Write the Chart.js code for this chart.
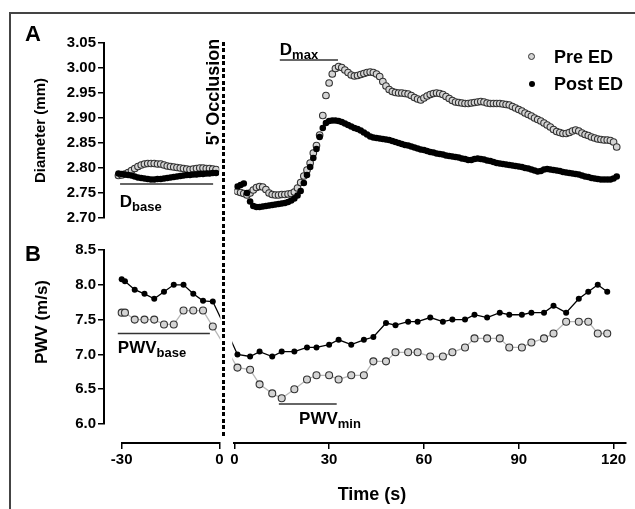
<!DOCTYPE html>
<html>
<head>
<meta charset="utf-8">
<script src="https://cdn.jsdelivr.net/npm/chart.js@4.4.1/dist/chart.umd.min.js"></script>
<style>
  html, body { margin: 0; padding: 0; background: #fff; overflow: hidden; }
  #fig { position: relative; width: 635px; height: 509px; overflow: hidden;
         font-family: 'Liberation Sans', Arial, sans-serif; font-weight: bold; color: #000; }
  #fig canvas { position: absolute; }
  .frame { position: absolute; left: 9px; top: 12px; width: 700px; height: 600px;
           border-left: 2px solid #444; border-top: 2px solid #444; }
  .txt { position: absolute; white-space: nowrap; line-height: 1; }
  .rot { transform: translate(-50%, -50%) rotate(-90deg); }
  .occl { position: absolute; left: 222px; top: 42px; width: 3px; height: 396px;
          background: repeating-linear-gradient(to bottom, #000 0 4px, transparent 4px 6.5px); }
  .dot { position: absolute; border-radius: 50%; box-sizing: border-box; }
</style>
</head>
<body>
<div id="fig">
  <div class="frame"></div>
  <canvas id="aL" width="222" height="230" style="left:0;top:0"></canvas>
  <canvas id="aR" width="413" height="230" style="left:222px;top:0"></canvas>
  <canvas id="bL" width="222" height="206" style="left:0;top:230px"></canvas>
  <canvas id="bR" width="413" height="206" style="left:222px;top:230px"></canvas>
  <canvas id="xL" width="228" height="73" style="left:0;top:436px"></canvas>
  <canvas id="xR" width="413" height="73" style="left:222px;top:436px"></canvas>

  <div class="occl"></div>
  <div class="txt rot" style="left:213px;top:92px;font-size:18px">5' Occlusion</div>
  <div class="txt" style="left:25px;top:23px;font-size:22px">A</div>
  <div class="txt" style="left:25px;top:243px;font-size:22px">B</div>
  <div class="txt rot" style="left:41px;top:322px;font-size:17px">PWV (m/s)</div>
  <div class="txt" style="left:372px;top:485px;font-size:18px;transform:translateX(-50%)">Time (s)</div>

  <div class="dot" style="left:528px;top:52.5px;width:7px;height:7px;background:#d4d4d4;border:1px solid #333"></div>
  <div class="txt" style="left:554px;top:48px;font-size:18px">Pre ED</div>
  <div class="dot" style="left:529px;top:80.5px;width:6px;height:6px;background:#000"></div>
  <div class="txt" style="left:554px;top:75px;font-size:18px">Post ED</div>
</div>

<script>
// ---- Diameter (panel A), sampled every second ----
const diamTimeLeft = [-31, -30, -29, -28, -27, -26, -25, -24, -23, -22, -21, -20, -19, -18, -17, -16,
  -15, -14, -13, -12, -11, -10, -9, -8, -7, -6, -5, -4, -3, -2, -1];
const diamPreLeft = [2.785, 2.786, 2.788, 2.791, 2.795, 2.799, 2.803, 2.806, 2.808, 2.809,
  2.809, 2.809, 2.808, 2.808, 2.806, 2.804, 2.803, 2.802, 2.801, 2.800,
  2.799, 2.798, 2.797, 2.798, 2.799, 2.800, 2.800, 2.799, 2.799, 2.798, 2.797];
const diamPostLeft = [2.789, 2.788, 2.787, 2.786, 2.785, 2.783, 2.781, 2.780, 2.779, 2.778,
  2.777, 2.777, 2.778, 2.778, 2.779, 2.780, 2.781, 2.782, 2.783, 2.784,
  2.785, 2.786, 2.786, 2.787, 2.787, 2.788, 2.788, 2.789, 2.789, 2.790, 2.790];

const diamTimeRight = [1, 2, 3, 4, 5, 6, 7, 8, 9, 10, 11, 12, 13, 14, 15, 16, 17, 18, 19, 20,
  21, 22, 23, 24, 25, 26, 27, 28, 29, 30, 31, 32, 33, 34, 35, 36, 37, 38, 39, 40,
  41, 42, 43, 44, 45, 46, 47, 48, 49, 50, 51, 52, 53, 54, 55, 56, 57, 58, 59, 60,
  61, 62, 63, 64, 65, 66, 67, 68, 69, 70, 71, 72, 73, 74, 75, 76, 77, 78, 79, 80,
  81, 82, 83, 84, 85, 86, 87, 88, 89, 90, 91, 92, 93, 94, 95, 96, 97, 98, 99, 100,
  101, 102, 103, 104, 105, 106, 107, 108, 109, 110, 111, 112, 113, 114, 115, 116, 117, 118, 119, 120, 121];
const diamPreRight = [
  2.753, 2.751, 2.749, 2.746, 2.750, 2.756, 2.761, 2.763, 2.762, 2.757,
  2.750, 2.747, 2.746, 2.746, 2.747, 2.747, 2.748, 2.749, 2.752, 2.760,
  2.771, 2.784, 2.796, 2.810, 2.830, 2.845, 2.866, 2.905, 2.945, 2.970,
  2.988, 2.999, 3.003, 3.001, 2.996, 2.991, 2.986, 2.984, 2.985, 2.987,
  2.989, 2.991, 2.992, 2.991, 2.988, 2.983, 2.973, 2.964, 2.957, 2.953,
  2.951, 2.950, 2.950, 2.949, 2.948, 2.945, 2.941, 2.938, 2.936, 2.940,
  2.944, 2.947, 2.949, 2.950, 2.949, 2.947, 2.943, 2.939, 2.935, 2.932,
  2.931, 2.930, 2.929, 2.929, 2.930, 2.931, 2.932, 2.933, 2.932, 2.930,
  2.929, 2.929, 2.929, 2.929, 2.928, 2.927, 2.926, 2.923, 2.920, 2.917,
  2.914, 2.910, 2.907, 2.904, 2.900, 2.897, 2.894, 2.890, 2.886, 2.882,
  2.877, 2.873, 2.871, 2.869, 2.869, 2.871, 2.874, 2.876, 2.874, 2.870,
  2.867, 2.865, 2.862, 2.860, 2.858, 2.857, 2.856, 2.856, 2.855, 2.852, 2.842];
const diamPostRight = [
  2.763, 2.766, 2.769, 2.750, 2.733, 2.724, 2.722, 2.722, 2.723, 2.724,
  2.725, 2.726, 2.727, 2.728, 2.729, 2.730, 2.732, 2.735, 2.739, 2.745,
  2.754, 2.770, 2.786, 2.802, 2.820, 2.838, 2.862, 2.880, 2.890, 2.894,
  2.895, 2.895, 2.894, 2.892, 2.889, 2.886, 2.883, 2.880, 2.878, 2.875,
  2.871, 2.867, 2.863, 2.861, 2.860, 2.859, 2.858, 2.857, 2.856, 2.854,
  2.852, 2.850, 2.848, 2.846, 2.845, 2.843, 2.841, 2.839, 2.837, 2.836,
  2.834, 2.832, 2.831, 2.829, 2.828, 2.827, 2.825, 2.824, 2.823, 2.822,
  2.821, 2.819, 2.818, 2.816, 2.816, 2.818, 2.819, 2.818, 2.817, 2.815,
  2.814, 2.812, 2.810, 2.809, 2.808, 2.807, 2.806, 2.805, 2.804, 2.803,
  2.802, 2.800, 2.799, 2.797, 2.795, 2.793, 2.794, 2.797, 2.798, 2.797,
  2.796, 2.795, 2.794, 2.792, 2.791, 2.790, 2.789, 2.788, 2.787, 2.785,
  2.783, 2.782, 2.780, 2.779, 2.778, 2.777, 2.777, 2.777, 2.777, 2.779, 2.783];

// ---- PWV (panel B) ----
const pwvTimeLeft = [-30, -29, -26, -23, -20, -17, -14, -11, -8, -5, -2];
const pwvPreLeft  = [7.60, 7.60, 7.50, 7.50, 7.50, 7.43, 7.43, 7.63, 7.63, 7.63, 7.40];
const pwvPostLeft = [8.08, 8.05, 7.93, 7.87, 7.80, 7.90, 8.00, 8.00, 7.87, 7.77, 7.76];

const pwvTimeRight = [1, 5, 8, 12, 15, 19, 23, 26, 30, 33, 37, 41, 44, 48, 51, 55, 58,
  62, 66, 69, 73, 76, 80, 84, 87, 91, 94, 98, 101, 105, 109, 112, 115, 118];
const pwvPreRight = [6.81, 6.78, 6.57, 6.44, 6.37, 6.50, 6.64, 6.70, 6.70, 6.64, 6.70, 6.70,
  6.90, 6.90, 7.03, 7.03, 7.03, 6.97, 6.97, 7.03, 7.10, 7.23, 7.23, 7.23, 7.10, 7.10,
  7.17, 7.23, 7.30, 7.47, 7.47, 7.47, 7.30, 7.30];
const pwvPostRight = [7.00, 6.97, 7.04, 6.97, 7.04, 7.04, 7.10, 7.10, 7.14, 7.21, 7.14, 7.21,
  7.25, 7.45, 7.42, 7.47, 7.47, 7.53, 7.47, 7.50, 7.50, 7.57, 7.53, 7.60, 7.57, 7.57,
  7.60, 7.60, 7.70, 7.60, 7.80, 7.90, 8.00, 7.90];

const leftTicks = [-30, 0];
const rightTicks = [0, 30, 60, 90, 120];

// layout of the broken time axis
const LEFT_MIN = -35.44;   // left panels start at the y axis
const RIGHT_MAX = 124;
const BREAK_GAP_S = 4.7;   // width of the axis break, in seconds

const FONT = "'Liberation Sans', Arial, sans-serif";
Chart.defaults.font.family = FONT;
Chart.defaults.font.weight = 'bold';
Chart.defaults.color = '#000';
Chart.defaults.animation = false;

const pts = (xs, ys) => xs.map((x, i) => ({ x, y: ys[i] }));

// marker + label under/over a reference segment (D_base, D_max, ...)
const refMarks = {
  id: 'refMarks',
  afterDatasetsDraw(chart, args, opts) {
    const { ctx, scales: { x, y } } = chart;
    ctx.save();
    for (const m of opts.items || []) {
      const py = y.getPixelForValue(m.y);
      ctx.strokeStyle = '#333';
      ctx.lineWidth = 1.5;
      ctx.beginPath();
      ctx.moveTo(x.getPixelForValue(m.x0), py);
      ctx.lineTo(x.getPixelForValue(m.x1), py);
      ctx.stroke();
      const tx = x.getPixelForValue(m.tx);
      const ty = py + m.dy;
      ctx.fillStyle = '#000';
      ctx.textAlign = 'left';
      ctx.textBaseline = 'alphabetic';
      ctx.font = 'bold ' + m.size + 'px ' + FONT;
      ctx.fillText(m.main, tx, ty);
      const w = ctx.measureText(m.main).width;
      ctx.font = 'bold ' + m.subSize + 'px ' + FONT;
      ctx.fillText(m.sub, tx + w, ty + 4);
    }
    ctx.restore();
  }
};
Chart.register(refMarks);

function hidden(min, max) {
  return { type: 'linear', min, max, display: false };
}

function yAxis(min, max, step, digits, title) {
  return {
    type: 'linear', min, max,
    afterFit: s => { s.width = 104; },
    ticks: { stepSize: step, padding: 2, font: { size: 15, weight: 'bold' },
             callback: v => Number(v).toFixed(digits) },
    grid: { drawOnChartArea: false, drawTicks: true, tickLength: 6, color: '#000', lineWidth: 1.5 },
    border: { display: true, color: '#000', width: 2 },
    title: title
      ? { display: true, text: title, font: { size: 15, weight: 'bold' }, padding: { top: 32, bottom: 0 } }
      : { display: false }
  };
}

function xAxis(min, max, ticks) {
  return {
    type: 'linear', min, max,
    afterFit: s => { s.height = 30; },
    afterBuildTicks: s => { s.ticks = ticks.map(v => ({ value: v })); },
    ticks: { padding: 2, maxRotation: 0, autoSkip: false, font: { size: 15, weight: 'bold' } },
    grid: { drawOnChartArea: false, drawTicks: true, tickLength: 6, color: '#000', lineWidth: 1.5 },
    border: { display: true, color: '#000', width: 2 }
  };
}

const preDiamStyle = { label: 'Pre ED', showLine: false, pointRadius: 3.3,
  pointBackgroundColor: '#d4d4d4', pointBorderColor: '#333', pointBorderWidth: 1.1 };
const postDiamStyle = { label: 'Post ED', showLine: false, pointRadius: 3.3,
  pointBackgroundColor: '#000', pointBorderColor: '#000', pointBorderWidth: 0 };
const prePwvStyle = { label: 'Pre ED', borderColor: '#b8b8b8', borderWidth: 1.3, pointRadius: 3.5,
  pointBackgroundColor: '#d4d4d4', pointBorderColor: '#333', pointBorderWidth: 1.1 };
const postPwvStyle = { label: 'Post ED', borderColor: '#000', borderWidth: 1.3, pointRadius: 3,
  pointBackgroundColor: '#000', pointBorderColor: '#000', pointBorderWidth: 0 };

function baseOptions(padding, scales, marks) {
  return {
    responsive: false,
    animation: false,
    layout: { autoPadding: false, padding },
    scales,
    plugins: { legend: { display: false }, tooltip: { enabled: false }, refMarks: { items: marks || [] } }
  };
}

// Panel A, before occlusion
new Chart(document.getElementById('aL'), {
  type: 'scatter',
  data: { datasets: [
    { ...postDiamStyle, data: pts(diamTimeLeft, diamPostLeft) },
    { ...preDiamStyle, data: pts(diamTimeLeft, diamPreLeft) }
  ] },
  options: baseOptions({ left: 0, right: 2.7, top: 43, bottom: 12 },
    { x: hidden(LEFT_MIN, 0), y: yAxis(2.70, 3.05, 0.05, 2, 'Diameter (mm)') },
    [{ x0: -30.5, x1: -1.9, y: 2.768, tx: -30.6, dy: 23, main: 'D', sub: 'base', size: 17, subSize: 13 }])
});

// Panel A, after release
new Chart(document.getElementById('aR'), {
  type: 'scatter',
  data: { datasets: [
    { ...postDiamStyle, data: pts(diamTimeRight, diamPostRight) },
    { ...preDiamStyle, data: pts(diamTimeRight, diamPreRight) }
  ] },
  options: baseOptions({ left: 12.3, right: 8.8, top: 43, bottom: 12 },
    { x: hidden(0, RIGHT_MAX), y: hidden(2.70, 3.05) },
    [{ x0: 14.4, x1: 32.8, y: 3.016, tx: 14.4, dy: -5, main: 'D', sub: 'max', size: 17, subSize: 13 }])
});

// Panel B: the lines run across the break and are clipped at it
const lastL = pwvTimeLeft.length - 1;
const bridgeLeft = (left, right) =>
  [...pts(pwvTimeLeft, left), { x: pwvTimeRight[0] + BREAK_GAP_S, y: right[0] }];
const bridgeRight = (left, right) =>
  [{ x: pwvTimeLeft[lastL] - BREAK_GAP_S, y: left[lastL] }, ...pts(pwvTimeRight, right)];

new Chart(document.getElementById('bL'), {
  type: 'line',
  data: { datasets: [
    { ...postPwvStyle, clip: { left: 8, top: 8, right: 1, bottom: 8 }, data: bridgeLeft(pwvPostLeft, pwvPostRight) },
    { ...prePwvStyle, clip: { left: 8, top: 8, right: 1, bottom: 8 }, data: bridgeLeft(pwvPreLeft, pwvPreRight) }
  ] },
  options: baseOptions({ left: 0, right: 2.7, top: 20, bottom: 12 },
    { x: hidden(LEFT_MIN, 0), y: yAxis(6.0, 8.5, 0.5, 1, null) },
    [{ x0: -31.2, x1: -2.9, y: 7.30, tx: -31.2, dy: 19, main: 'PWV', sub: 'base', size: 17, subSize: 13 }])
});

new Chart(document.getElementById('bR'), {
  type: 'line',
  data: { datasets: [
    { ...postPwvStyle, clip: { left: 2, top: 8, right: 8, bottom: 8 }, data: bridgeRight(pwvPostLeft, pwvPostRight) },
    { ...prePwvStyle, clip: { left: 2, top: 8, right: 8, bottom: 8 }, data: bridgeRight(pwvPreLeft, pwvPreRight) }
  ] },
  options: baseOptions({ left: 12.3, right: 8.8, top: 20, bottom: 12 },
    { x: hidden(0, RIGHT_MAX), y: hidden(6.0, 8.5) },
    [{ x0: 14.1, x1: 32.4, y: 6.286, tx: 20.5, dy: 20, main: 'PWV', sub: 'min', size: 17, subSize: 13 }])
});

// Broken time axis
new Chart(document.getElementById('xL'), {
  type: 'line',
  data: { datasets: [] },
  options: baseOptions({ left: 121.7, right: 8.7, top: 1, bottom: 36 },
    { x: xAxis(-30, 0, leftTicks), y: hidden(0, 1) })
});

new Chart(document.getElementById('xR'), {
  type: 'line',
  data: { datasets: [] },
  options: baseOptions({ left: 12.3, right: 8.8, top: 1, bottom: 36 },
    { x: xAxis(0, RIGHT_MAX, rightTicks), y: hidden(0, 1) })
});
</script>
</body>
</html>
